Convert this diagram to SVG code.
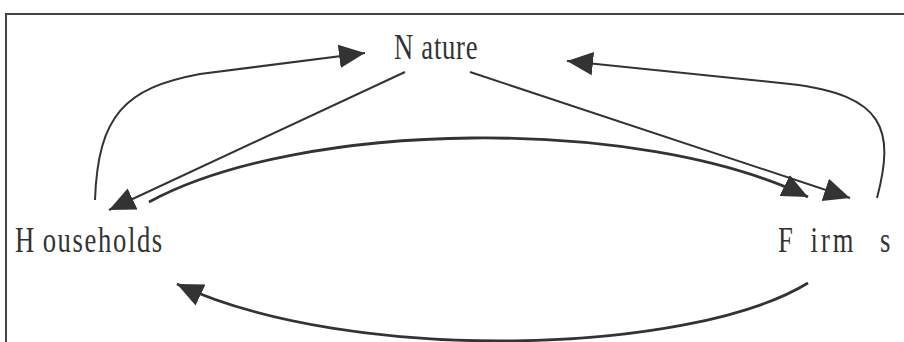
<svg xmlns="http://www.w3.org/2000/svg" width="904" height="342" viewBox="0 0 904 342">
<defs>
<style>
.lbl{font-family:"Liberation Serif","Times New Roman",serif;font-size:36px;fill:#333}
.c{fill:none;stroke:#333;stroke-width:2}
.ct{fill:none;stroke:#333;stroke-width:2.8}
.frame{fill:none;stroke:#444;stroke-width:2}
</style>
<marker id="ah" viewBox="0 0 10 10" refX="10" refY="5" markerWidth="26" markerHeight="26" markerUnits="userSpaceOnUse" orient="auto">
<path d="M0,0.5 L10,5 L0,9.5 Z" fill="#333"/>
</marker>
</defs>
<rect width="904" height="342" fill="#fff"/>
<path class="frame" d="M6,342 V14 H904"/>
<g id="nature"><text class="lbl" transform="translate(394,59) scale(0.74,1)" letter-spacing="1">N ature</text></g>
<g id="households"><text class="lbl" transform="translate(15,252) scale(0.74,1)" letter-spacing="2.2" word-spacing="-2">H ouseholds</text></g>
<g id="firms"><text class="lbl" transform="translate(778,252) scale(0.74,1)"><tspan x="0">F </tspan><tspan x="44" letter-spacing="4">irm </tspan><tspan x="138">s</tspan></text></g>
<g id="connectors">
<path class="c" d="M95,200 C98,115 125,88 200,74 L365,53" marker-end="url(#ah)"/>
<path class="c" d="M405,72 L109,210" marker-end="url(#ah)"/>
<path class="ct" d="M149,202 C300,120 640,115 808,197" marker-end="url(#ah)"/>
<path class="c" d="M470,72 L850,198" marker-end="url(#ah)"/>
<path class="c" d="M877,198 C895,130 885,95 790,84 L567,61" marker-end="url(#ah)"/>
<path class="ct" d="M808,283 C690,355 350,365 177,284" marker-end="url(#ah)"/>
</g>
</svg>
